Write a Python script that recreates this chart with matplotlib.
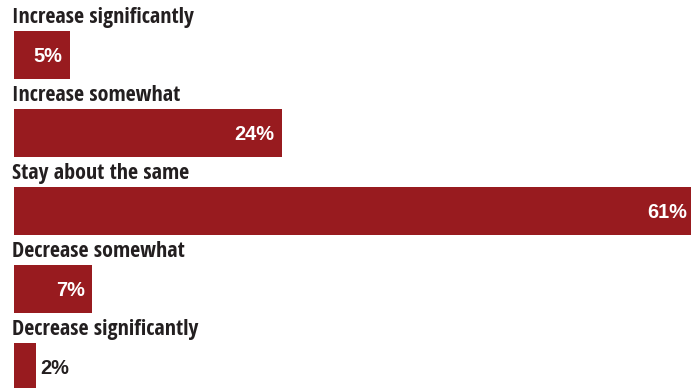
import matplotlib.pyplot as plt

categories = ['Increase significantly', 'Increase somewhat', 'Stay about the same',
              'Decrease somewhat', 'Decrease significantly']
values = [5, 24, 61, 7, 2]
value_labels = ['5%', '24%', '61%', '7%', '2%']

bar_color = '#981b1f'
text_color = '#231f20'

fig = plt.figure(figsize=(6.91, 3.88), dpi=100)
# axes start where the bars start and run off the right edge
ax = fig.add_axes([14 / 691, 0, 1 - 14 / 691, 1])

pitch = 78.0
top = 55.0
ax.set_ylim((388 - top) / pitch, -top / pitch)
ax.set_xlim(0, 677 / 11.15)

bar_h = 48 / pitch
ypos = list(range(len(values)))
ax.barh(ypos, values, height=bar_h, color=bar_color)

px = (677 / 11.15) / 677  # data units per pixel along x
for i, (cat, v, lab) in enumerate(zip(categories, values, value_labels)):
    ax.text(-2 * px, i - bar_h / 2 - 8 / pitch, cat, ha='left', va='baseline',
            fontsize=15.8, fontweight='bold', family='Open Sans Condensed',
            color=text_color, clip_on=False)
    if v >= 5:
        ax.text(v - 7 * px, i + 2 / pitch, lab, ha='right', va='center',
                fontsize=14.4, fontweight='bold', family='Liberation Sans',
                color='white')
    else:
        ax.text(v + 4 * px, i + 2 / pitch, lab, ha='left', va='center',
                fontsize=14.4, fontweight='bold', family='Liberation Sans',
                color=text_color)

ax.axis('off')
fig.savefig('out.png', dpi=100)
